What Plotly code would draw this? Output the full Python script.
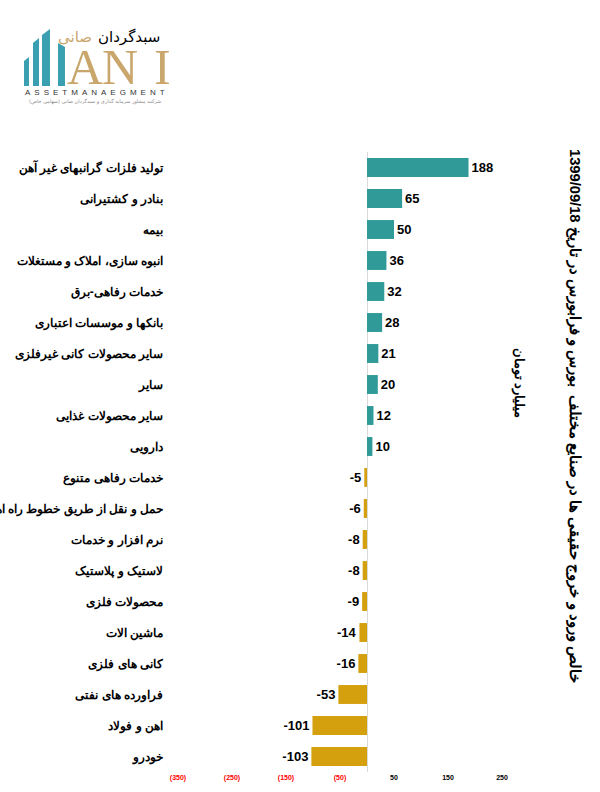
import plotly.graph_objects as go

# صنایع و خالص ورود/خروج پول حقیقی (میلیارد تومان)
industries = [
    "تولید فلزات گرانبهای غیر آهن",
    "بنادر و کشتیرانی",
    "بیمه",
    "انبوه سازی، املاک و مستغلات",
    "خدمات رفاهی-برق",
    "بانکها و موسسات اعتباری",
    "سایر محصولات کانی غیرفلزی",
    "سایر",
    "سایر محصولات غذایی",
    "دارویی",
    "خدمات رفاهی متنوع",
    "حمل و نقل از طریق خطوط راه اهن",
    "نرم افزار و خدمات",
    "لاستیک و پلاستیک",
    "محصولات فلزی",
    "ماشین الات",
    "کانی های فلزی",
    "فراورده های نفتی",
    "اهن و فولاد",
    "خودرو",
]
net_flow = [188, 65, 50, 36, 32, 28, 21, 20, 12, 10,
            -5, -6, -8, -8, -9, -14, -16, -53, -101, -103]

tick_vals = [-350, -250, -150, -50, 50, 150, 250]
tick_text = ["(350)", "(250)", "(150)", "(50)", "50", "150", "250"]

TEAL = "#2F9A98"
GOLD = "#D4A00E"
LOGO_TEAL = "#3A9FB0"
LOGO_GOLD = "#C9A66B"

W, H = 600, 792
L, R, T, B = 178, 98, 152, 20


def px_x(x):
    return (x - L) / (W - L - R)


def px_y(y):
    return (H - B - y) / (H - T - B)


colors = [TEAL if v >= 0 else GOLD for v in net_flow]
labels = [str(v) for v in net_flow]
ticks = [
    f"<span style='color:{'#FF0000' if v < 0 else '#000000'}'>{t}</span>"
    for v, t in zip(tick_vals, tick_text)
]

fig = go.Figure()
fig.add_trace(
    go.Bar(
        x=net_flow,
        y=industries,
        orientation="h",
        marker=dict(color=colors, line=dict(width=0)),
        text=labels,
        textposition="outside",
        textfont=dict(family="Liberation Sans", size=13, color="black", weight="bold"),
        cliponaxis=False,
        hoverinfo="x+y",
    )
)

# لوگو
logo_bars = [
    [(24, 86), (29, 86), (29, 57), (24, 61)],
    [(33, 86), (39, 86), (39, 38), (33, 43)],
    [(42, 86), (50, 86), (50, 29), (42, 35)],
    [(58, 86), (65, 86), (65, 47), (58, 43)],
]
shapes = []
for pts in logo_bars:
    path = "M " + " L ".join(f"{px_x(a):.4f},{px_y(b):.4f}" for a, b in pts) + " Z"
    shapes.append(dict(type="path", xref="paper", yref="paper", path=path,
                       fillcolor=LOGO_TEAL, line=dict(width=0), layer="above"))

annotations = []


def add_text(text, x, y, size, color="black", family="Liberation Sans",
             weight="normal", angle=0, xanchor="center"):
    annotations.append(dict(
        text=text, x=px_x(x), y=px_y(y), xref="paper", yref="paper",
        showarrow=False, textangle=angle, xanchor=xanchor, yanchor="middle",
        font=dict(family=family, size=size, color=color, weight=weight),
    ))


add_text("A", 85, 67, 50, LOGO_GOLD, "Liberation Serif")
add_text("N", 120, 67, 50, LOGO_GOLD, "Liberation Serif")
add_text("I", 162, 67, 50, LOGO_GOLD, "Liberation Serif")
add_text("سبدگردان", 129, 37, 15, "black", "DejaVu Sans")
add_text("صانی", 75, 37, 15, LOGO_GOLD, "DejaVu Sans")
add_text("\u2002".join("ASSETMANAEGMENT"), 95, 92, 8, "#333333", "Liberation Sans")
add_text("شرکت مشاور سرمایه گذاری و سبدگردان صانی (سهامی خاص)", 95, 101, 5,
         "#888888", "DejaVu Sans")

# عنوان عمودی
add_text("\u202bخالص ورود و خروج حقیقی ها در صنایع مختلف  بورس و فرابورس در تاریخ 1399/09/18\u202c",
         575, 416, 14.7, "black", "Liberation Sans", "bold", 90)
add_text("میلیارد تومان", 519, 383, 12.5, "black", "Liberation Sans", "bold", 90)

fig.update_layout(
    width=W,
    height=H,
    margin=dict(l=L, r=R, t=T, b=B, autoexpand=False),
    paper_bgcolor="white",
    plot_bgcolor="white",
    showlegend=False,
    bargap=0.39,
    shapes=shapes,
    annotations=annotations,
    xaxis=dict(
        range=[-350, 250],
        tickvals=tick_vals,
        ticktext=ticks,
        tickfont=dict(family="Liberation Sans", size=7, color="black", weight="bold"),
        showgrid=False,
        zeroline=True,
        zerolinecolor="#D9D9D9",
        zerolinewidth=1,
        showline=False,
        ticks="",
        automargin=False,
        fixedrange=True,
    ),
    yaxis=dict(
        autorange="reversed",
        tickfont=dict(family="Liberation Sans", size=12, color="black", weight="bold"),
        showgrid=False,
        showline=False,
        ticks="",
        ticklabelstandoff=14,
        automargin=False,
        fixedrange=True,
    ),
)

fig.write_html(
    "out.html",
    config={"displayModeBar": False},
    post_script="document.body.style.margin='0';document.body.style.padding='0';",
)
